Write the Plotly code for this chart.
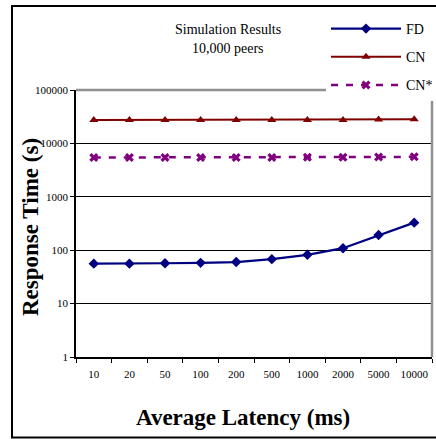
import plotly.graph_objects as go

latency = ['10', '20', '50', '100', '200', '500', '1000', '2000', '5000', '10000']
fd = [56, 56, 57, 58, 60, 68, 82, 109, 192, 328]
cn = [27400, 27400, 27400, 27400, 27400, 27400, 27500, 27500, 28000, 28300]
cn_star = [5450, 5450, 5450, 5450, 5450, 5450, 5500, 5500, 5550, 5600]
y_ticks = [1, 10, 100, 1000, 10000, 100000]
y_labels = ['1', '10', '100', '1000', '10000', '100000']

SERIF = 'Liberation Serif'

fig = go.Figure()
fig.add_trace(go.Scatter(x=latency, y=fd, name='FD', mode='lines+markers',
                         line=dict(color='#000080', width=2.2),
                         marker=dict(symbol='diamond', size=8, color='#000080'),
                         legendgroup='a'))
fig.add_trace(go.Scatter(x=latency, y=cn, name='CN', mode='lines+markers',
                         line=dict(color='#800000', width=2),
                         marker=dict(symbol='triangle-up', size=8, color='#800000'),
                         legendgroup='b'))
fig.add_trace(go.Scatter(x=latency, y=cn_star, name='CN*', mode='lines+markers',
                         line=dict(color='#800080', width=2.5, dash='7px,8px'),
                         marker=dict(symbol='x', size=8, color='#800080',
                                     line=dict(width=0)),
                         legendgroup='c'))

W, H = 436, 439
L, R, T, B = 76, 4, 90, 82
pw, ph = W - L - R, H - T - B

def px_x(p):
    return (p - L) / pw

def px_y(p):
    return (H - B - p) / ph

fig.update_layout(
    width=W, height=H,
    margin=dict(l=L, r=R, t=T, b=B, autoexpand=False),
    paper_bgcolor='white', plot_bgcolor='white',
    font=dict(family=SERIF, color='black'),
    showlegend=True,
    legend=dict(x=px_x(326), y=px_y(13), xanchor='left', yanchor='top',
                bgcolor='white', font=dict(size=14, family=SERIF),
                itemwidth=70, tracegroupgap=7, traceorder='grouped'),
    xaxis=dict(type='category', range=[-0.5, len(latency) - 0.5],
               showline=True, linecolor='black', linewidth=1.5,
               ticks='outside', tickson='boundaries', ticklen=4, tickcolor='black',
               tickangle=0, ticklabelstandoff=6,
               tickfont=dict(size=11, family=SERIF), showgrid=False,
               zeroline=False, fixedrange=True),
    yaxis=dict(type='log', range=[0, 5], tickvals=y_ticks, ticktext=y_labels,
               showline=True, linecolor='black', linewidth=1.5,
               ticks='outside', ticklen=4, tickcolor='black',
               tickfont=dict(size=11, family=SERIF),
               showgrid=True, gridcolor='black', gridwidth=1,
               zeroline=False, fixedrange=True),
    shapes=[
        dict(type='line', xref='paper', yref='paper', x0=0, x1=1, y0=1, y1=1,
             line=dict(color='#909090', width=2.5), layer='above'),
        dict(type='line', xref='paper', yref='paper', x0=1, x1=1, y0=0, y1=1,
             line=dict(color='#909090', width=2.5), layer='above'),
        dict(type='rect', xref='paper', yref='paper',
             x0=px_x(12), x1=px_x(445), y0=px_y(437.5), y1=px_y(6),
             line=dict(color='black', width=2), layer='below'),
    ],
    annotations=[
        dict(text='Simulation Results', xref='paper', yref='paper',
             x=px_x(228), y=px_y(29), xanchor='center', yanchor='middle',
             showarrow=False, font=dict(size=14, family=SERIF)),
        dict(text='10,000 peers', xref='paper', yref='paper',
             x=px_x(228), y=px_y(48), xanchor='center', yanchor='middle',
             showarrow=False, font=dict(size=14, family=SERIF)),
        dict(text='<b>Response Time (s)</b>', xref='paper', yref='paper',
             x=px_x(31), y=px_y(227), xanchor='center', yanchor='middle',
             showarrow=False, textangle=-90,
             font=dict(size=23, family=SERIF)),
        dict(text='<b>Average Latency (ms)</b>', xref='paper', yref='paper',
             x=px_x(243), y=px_y(418), xanchor='center', yanchor='middle',
             showarrow=False, font=dict(size=23, family=SERIF)),
    ],
)

fig.write_html('out.html', config={'displayModeBar': False},
               post_script="document.body.style.margin='0';document.body.style.overflow='hidden';")
